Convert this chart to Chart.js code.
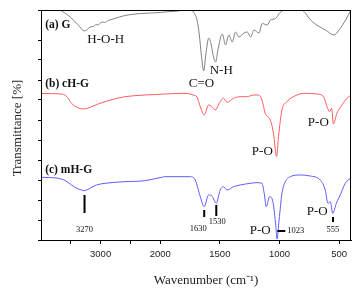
<!DOCTYPE html>
<html><head><meta charset="utf-8">
<script src="https://cdn.jsdelivr.net/npm/chart.js@4.4.0/dist/chart.umd.min.js"></script>
<style>html,body{margin:0;padding:0;background:#fff}</style>
</head><body>
<canvas id="c" width="364" height="296"></canvas>
<script>
// ---- data (wavenumber in cm-1, transmittance in arbitrary offset units) ----
const wnG = [4000,3760,3680,3510,3375,3275,3225,3175,3125,3075,3040,3005,2955,2925,2875,2790,2705,2590,2490,2335,2150,2000,1960,1910,1850,1815,1780,1750,1720,1690,1672,1655,1635,1618,1593,1572,1555,1536,1513,1480,1452,1424,1396,1368,1340,1298,1270,1242,1214,1172,1144,1102,1075,1033,991,949,892,836,794,739,668,613,543,501,445,400];
const tG = [236,233,230,223,215,209,210.5,213,213.5,215.5,215,217,218,217.5,219.5,221,222.7,224.5,225.5,226.5,227,227.5,228,228.5,229,229.7,229.5,230.5,227.7,219.3,205,185,169,185,202,195,184,178,192,206,195,205,198,208,203,207,208,203,210,207,216.5,215,220,221.5,228,230,230.7,231.5,228.5,220,213.5,210,205,210,220,230];

const wnCHG = [4000,3656,3577,3488,3393,3292,3208,3153,3040,2928,2772,2592,2257,1961,1793,1748,1723,1692,1664,1631,1595,1566,1539,1497,1469,1440,1385,1329,1273,1217,1175,1147,1119,1077,1050,1024,1008,979,937,853,784,685,630,601,580,562,548,518,476,434,400];
const tCHG = [146.5,146,144,136.7,132.5,131,132,133.3,136,138.3,141,143.3,145,146,146.7,146,145,143,133.3,125,135,133.3,130,138.3,141.7,137.7,141.7,143.3,143.3,145,145,140,126.7,120,106.7,83.5,103.3,130,138.3,145,146.7,146,143.3,133.3,128.3,131.7,116,126.7,135,141.7,145];

const wnMHG = [4000,3711,3594,3488,3409,3320,3275,3208,3141,3069,2928,2592,2257,1989,1961,1793,1748,1706,1664,1631,1595,1566,1530,1497,1469,1440,1385,1329,1245,1189,1147,1128,1111,1083,1055,1030,1020,1003,979,951,909,826,742,658,616,593,574,553,523,484,448,400];
const tMHG = [62.7,61.7,59.5,55,52,50,49.3,50.7,53,55,56.7,58.3,59.3,62.7,63.3,63.3,63.3,60,43.3,33.3,45,44,36.7,50,53.3,50,53.3,55,56.7,57.3,56.7,46.7,33.3,43.3,38.3,13.3,1,20,46.7,58.3,63.3,65,64,60,50,36.7,38.3,26.7,36.7,46.7,56.7,62];

const tickWn = [3500,3000,2500,2000,1500,1000,500];
const labeledWn = [3000,2000,1500,1000,500];

const seriesLabels = [
  {text:'(a) G', w:3930, v:215},
  {text:'(b) cH-G', w:3930, v:156},
  {text:'(c) mH-G', w:3930, v:70.3}
];
const bandLabels = [
  {text:'H-O-H', w:2914, v:200},
  {text:'C=O', w:1654, v:156.7},
  {text:'N-H', w:1488, v:169.3},
  {text:'P-O', w:1144, v:88.5},
  {text:'P-O', w:674, v:117.3},
  {text:'P-O', w:1161, v:9},
  {text:'P-O', w:683, v:28.3}
];
const peakNumbers = [
  {text:'3270', w:3270, v:10, align:'center'},
  {text:'1630', w:1681, v:11.7, align:'center'},
  {text:'1530', w:1522, v:18.3, align:'center'},
  {text:'1023', w:935, v:9, align:'left'},
  {text:'555', w:551, v:10, align:'center'}
];
const peakBars = [
  {w1:3270, v1:45, w2:3270, v2:27},
  {w1:1631, v1:30, w2:1631, v2:23},
  {w1:1530, v1:35, w2:1530, v2:24},
  {w1:1018, v1:9, w2:951, v2:9},
  {w1:551, v1:23, w2:551, v2:18}
];

// ---- broken wavenumber axis: 4000-2000 compressed by half ----
const u = w => w > 2000 ? 2000 + (w - 2000) / 2 : w;
const uInv = x => x > 2000 ? 2000 + (x - 2000) * 2 : x;
const mk = (wn, t) => wn.map((w, i) => ({x: u(w), y: t[i]}));

const serif = "'Liberation Serif','Times New Roman',serif";

const annot = {
  id: 'annot',
  afterDraw(chart) {
    const {ctx, chartArea: a, scales: {x, y}} = chart;
    const px = w => x.getPixelForValue(u(w));
    const py = v => y.getPixelForValue(v);
    ctx.save();
    // frame
    ctx.strokeStyle = '#000'; ctx.lineWidth = 1;
    ctx.strokeRect(Math.round(a.left) + 0.5, Math.round(a.top) + 0.5, Math.round(a.right - a.left) - 1, Math.round(a.bottom - a.top));
    ctx.fillStyle = '#111';
    ctx.textBaseline = 'middle';
    ctx.font = 'bold 11.5px ' + serif; ctx.textAlign = 'left';
    seriesLabels.forEach(l => ctx.fillText(l.text, px(l.w), py(l.v)));
    ctx.font = '13px ' + serif; ctx.textAlign = 'center';
    bandLabels.forEach(l => ctx.fillText(l.text, px(l.w), py(l.v)));
    ctx.font = '8.5px ' + serif;
    peakNumbers.forEach(l => { ctx.textAlign = l.align; ctx.fillText(l.text, px(l.w), py(l.v)); });
    ctx.lineWidth = 2; ctx.strokeStyle = '#000';
    peakBars.forEach(b => { ctx.beginPath(); ctx.moveTo(px(b.w1), py(b.v1)); ctx.lineTo(px(b.w2), py(b.v2)); ctx.stroke(); });
    // axis titles
    ctx.fillStyle = '#222';
    ctx.font = '13px ' + serif; ctx.textAlign = 'center';
    ctx.fillText('Wavenumber (cm\u207B\u00B9)', 206, 281);
    ctx.translate(18, 128); ctx.rotate(-Math.PI / 2);
    ctx.fillText('Transmittance [%]', 0, 0);
    ctx.restore();
  }
};

new Chart(document.getElementById('c'), {
  type: 'line',
  data: {datasets: [
    {data: mk(wnG, tG), borderColor: '#808080', borderWidth: 1, pointRadius: 0, cubicInterpolationMode: 'monotone', fill: false},
    {data: mk(wnCHG, tCHG), borderColor: '#ff5c5c', borderWidth: 1, pointRadius: 0, cubicInterpolationMode: 'monotone', fill: false},
    {data: mk(wnMHG, tMHG), borderColor: '#5c5cff', borderWidth: 1, pointRadius: 0, cubicInterpolationMode: 'monotone', fill: false}
  ]},
  options: {
    responsive: false, animation: false, events: [],
    layout: {padding: {left: 0, top: 10, right: 13, bottom: 0}},
    plugins: {legend: {display: false}, tooltip: {enabled: false}},
    scales: {
      x: {
        type: 'linear', reverse: true, min: u(400), max: u(4000),
        afterBuildTicks: s => { s.ticks = tickWn.map(w => ({value: u(w)})); },
        afterFit: s => { s.height = 56; },
        grid: {drawOnChartArea: false, drawTicks: true, tickLength: 4, tickColor: '#000', tickWidth: 1},
        border: {display: true, color: '#000', width: 1},
        ticks: {autoSkip: false, maxRotation: 0, padding: 5, color: '#222',
          font: {family: "'Liberation Sans',Arial,sans-serif", size: 9.5},
          callback: v => { const w = Math.round(uInv(v)); return labeledWn.includes(w) ? String(w) : ''; }}
      },
      y: {
        type: 'linear', min: 0, max: 230,
        afterFit: s => { s.width = 41; },
        ticks: {display: false, stepSize: 20},
        grid: {drawOnChartArea: false, drawTicks: true, tickLength: 3, tickColor: '#000'},
        border: {display: true, color: '#000', width: 1}
      }
    }
  },
  plugins: [annot]
});
</script>
</body></html>
